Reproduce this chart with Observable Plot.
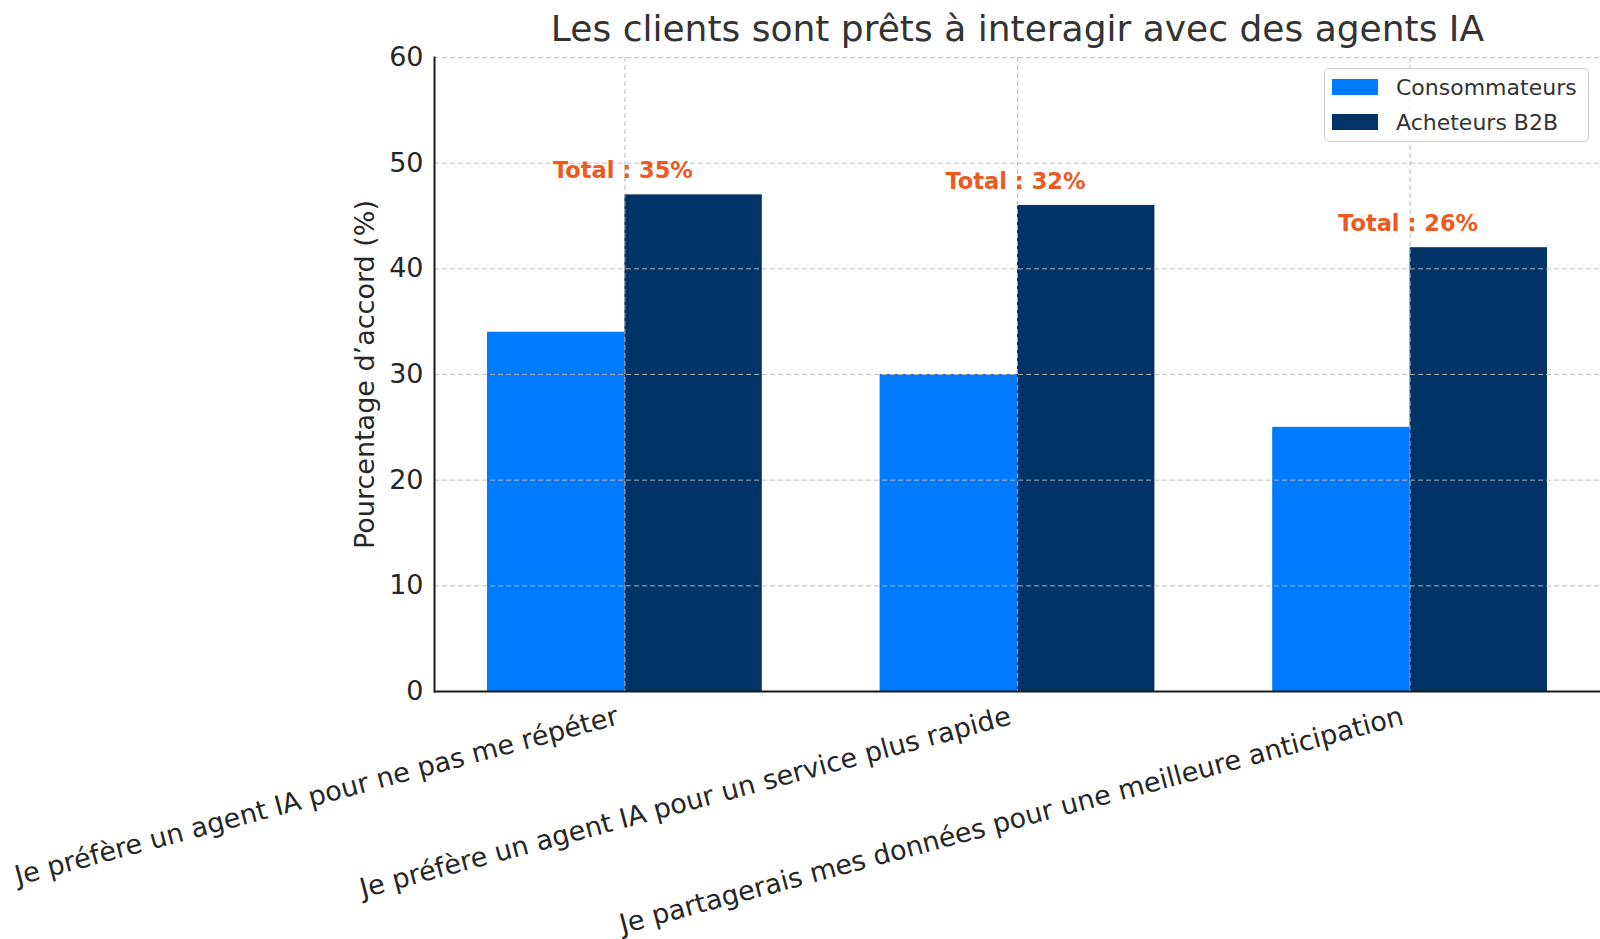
<!DOCTYPE html>
<html>
<head>
<meta charset="utf-8">
<script src="https://cdn.jsdelivr.net/npm/d3@7"></script>
<script src="https://cdn.jsdelivr.net/npm/@observablehq/plot@0.6"></script>
<style>
  html, body { margin: 0; padding: 0; background: #fff; }
  body { width: 1600px; height: 939px; overflow: hidden; font-family: "DejaVu Sans", sans-serif; }
  #wrap { position: relative; width: 1600px; height: 939px; }
  #title { height: 50px; box-sizing: border-box; padding-top: 9px; line-height: 40px; font-size: 36px; color: #333;
           padding-left: 435px; width: 1600px; text-align: center; white-space: nowrap; }
  #legend { position: absolute; left: 1324px; top: 68px; width: 265px; height: 74px; box-sizing: border-box;
            border: 1.5px solid #d0d0d0; border-radius: 5px; background: rgba(255,255,255,0.85); }
  .li { position: absolute; left: 7px; height: 30px; display: flex; align-items: center; font-size: 22px; color: #333; }
  .sw { width: 46px; height: 16px; margin-right: 18px; }
  svg { overflow: visible; }
</style>
</head>
<body>
<div id="wrap">
  <div id="title">Les clients sont prêts à interagir avec des agents IA</div>
  <div id="chart"></div>
  <div id="legend"></div>
</div>
<script>
const categories = [
  "Je préfère un agent IA pour ne pas me répéter",
  "Je préfère un agent IA pour un service plus rapide",
  "Je partagerais mes données pour une meilleure anticipation"
];
const series = ["Consommateurs", "Acheteurs B2B"];
const consommateurs = [34, 30, 25];
const acheteursB2B = [47, 46, 42];
const totals = [35, 32, 26];
const yTicks = [0, 10, 20, 30, 40, 50, 60];
const colors = ["#007BFF", "#003366"];
const yLabel = "Pourcentage d’accord (%)";

const W = 1600, H = 889, mL = 434, mR = 0, mT = 7, mB = 248;
const padInner = 0.3, padOuter = 0.135;
const step = (W - mL - mR) / (categories.length - padInner + 2 * padOuter);
const half = step * (1 - padInner) / 2;

const idx = d3.range(categories.length);
const font = "DejaVu Sans";
const gridStyle = {stroke: "#b8b8b8", strokeDasharray: "5,3", strokeWidth: 1, strokeOpacity: 0.9};

const chart = Plot.plot({
  width: W, height: H,
  marginLeft: mL, marginRight: mR, marginTop: mT, marginBottom: mB,
  style: {fontFamily: font, fontSize: "22px", color: "#222", background: "transparent", overflow: "visible"},
  x: {type: "band", domain: categories, paddingInner: padInner, paddingOuter: padOuter, round: false, axis: null},
  y: {domain: [0, 60], axis: null},
  marks: [
    Plot.barY(idx, {x: i => categories[i], y: i => consommateurs[i], fill: colors[0], insetRight: half}),
    Plot.barY(idx, {x: i => categories[i], y: i => acheteursB2B[i], fill: colors[1], insetLeft: half}),
    Plot.gridX(categories, gridStyle),
    Plot.gridY(yTicks, gridStyle),
    Plot.axisY(yTicks, {tickSize: 0, tickPadding: 11, fontSize: 27, label: null, fill: "#262626"}),
    Plot.ruleY([0], {stroke: "#1a1a1a", strokeWidth: 2}),
    Plot.frame({anchor: "left", stroke: "#1a1a1a", strokeWidth: 2}),
    Plot.text(idx, {
      x: i => categories[i], y: i => acheteursB2B[i],
      text: i => `Total : ${totals[i]}%`,
      fill: "#EB5A1E", fontWeight: "bold", fontSize: 22.5, dy: -24, dx: -2, lineAnchor: "middle"
    }),
    Plot.text(categories, {
      x: d => d, frameAnchor: "bottom", text: d => d,
      textAnchor: "end", lineAnchor: "top", rotate: -15, fontSize: 27, fill: "#262626", dy: 14, dx: -10
    }),
    Plot.text([yLabel], {
      frameAnchor: "left", text: d => d, rotate: -90, dx: -69, fontSize: 27, fill: "#262626",
      textAnchor: "middle", lineAnchor: "middle"
    })
  ]
});
document.getElementById("chart").appendChild(chart);

const legend = document.getElementById("legend");
series.forEach((s, i) => {
  const row = document.createElement("div");
  row.className = "li";
  row.style.top = (i === 0 ? 3 : 38) + "px";
  const sw = document.createElement("div");
  sw.className = "sw";
  sw.style.background = colors[i];
  const t = document.createElement("span");
  t.textContent = s;
  row.appendChild(sw); row.appendChild(t);
  legend.appendChild(row);
});
</script>
</body>
</html>
